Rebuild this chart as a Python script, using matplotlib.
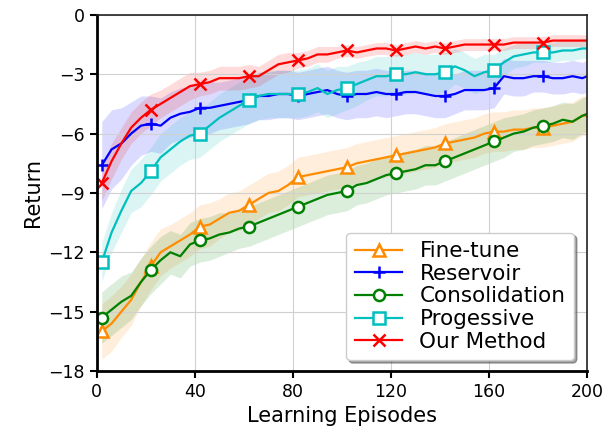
import matplotlib
matplotlib.use("Agg")
import matplotlib.pyplot as plt
import numpy as np

episodes = list(range(2, 199, 4)) + [200]

finetune = [-16.0, -15.6, -15.0, -14.4, -13.5, -12.7, -12.0, -11.7, -11.4, -11.1,
            -10.7, -10.6, -10.3, -10.0, -9.9, -9.6, -9.3, -9.0, -8.9, -8.6,
            -8.2, -8.1, -8.0, -7.9, -7.8, -7.7, -7.5, -7.4, -7.3, -7.2,
            -7.1, -7.0, -6.9, -6.8, -6.7, -6.5, -6.4, -6.3, -6.2, -6.0,
            -5.9, -5.9, -5.8, -5.8, -5.7, -5.7, -5.6, -5.5, -5.4, -5.1, -5.1]
finetune_sd = [1.4, 1.4, 1.3, 1.3, 1.2, 1.2, 1.2, 1.1, 1.1, 1.1,
               1.1, 1.1, 1.0, 1.0, 1.0, 1.0, 1.0, 1.0, 1.0, 1.0,
               1.0, 1.0, 1.0, 1.0, 1.0, 1.0, 1.0, 1.0, 1.0, 1.0,
               1.0, 1.0, 1.0, 1.0, 1.0, 1.0, 1.0, 1.0, 1.0, 1.0,
               1.0, 1.0, 1.0, 1.0, 1.0, 1.0, 1.0, 1.0, 1.0, 1.0, 1.0]

reservoir = [-7.6, -6.8, -6.5, -6.0, -5.6, -5.5, -5.6, -5.2, -5.0, -4.9,
             -4.7, -4.7, -4.6, -4.5, -4.4, -4.3, -4.1, -4.1, -4.0, -4.0,
             -4.1, -4.0, -3.9, -3.8, -4.0, -4.1, -4.0, -4.0, -3.9, -4.0,
             -4.0, -3.9, -3.9, -4.0, -4.1, -4.1, -4.0, -3.8, -3.8, -3.8,
             -3.7, -3.1, -3.2, -3.2, -3.1, -3.1, -3.2, -3.2, -3.1, -3.2, -3.1]
reservoir_sd = [2.2, 2.0, 1.8, 1.6, 1.5, 1.4, 1.4, 1.3, 1.3, 1.3,
                1.3, 1.3, 1.2, 1.2, 1.2, 1.2, 1.2, 1.2, 1.2, 1.2,
                1.2, 1.2, 1.2, 1.2, 1.2, 1.2, 1.2, 1.2, 1.2, 1.2,
                1.1, 1.1, 1.1, 1.1, 1.1, 1.1, 1.0, 1.0, 1.0, 1.0,
                1.0, 0.9, 0.9, 0.9, 0.8, 0.8, 0.8, 0.8, 0.8, 0.8, 0.8]

consolidation = [-15.3, -14.9, -14.5, -14.2, -13.5, -12.9, -12.4, -12.0, -12.2, -11.6,
                 -11.4, -11.3, -11.1, -11.0, -10.8, -10.7, -10.5, -10.3, -10.1, -9.9,
                 -9.7, -9.5, -9.3, -9.1, -9.0, -8.9, -8.6, -8.5, -8.3, -8.1,
                 -8.0, -7.9, -7.8, -7.6, -7.6, -7.4, -7.2, -7.0, -6.8, -6.6,
                 -6.4, -6.2, -6.0, -5.9, -5.7, -5.6, -5.5, -5.3, -5.4, -5.1, -5.0]
consolidation_sd = [1.3, 1.3, 1.3, 1.2, 1.2, 1.2, 1.2, 1.1, 1.1, 1.1,
                    1.1, 1.1, 1.1, 1.0, 1.0, 1.0, 1.0, 1.0, 1.0, 1.0,
                    1.0, 1.0, 1.0, 1.0, 1.0, 1.0, 1.0, 1.0, 1.0, 1.0,
                    1.0, 1.0, 1.0, 1.0, 1.0, 1.0, 1.0, 1.0, 1.0, 1.0,
                    1.0, 1.0, 0.9, 0.9, 0.9, 0.9, 0.9, 0.9, 0.9, 0.9, 0.9]

progressive = [-12.5, -11.0, -9.9, -8.9, -8.5, -7.9, -7.2, -6.8, -6.4, -6.1,
               -6.0, -5.6, -5.2, -4.9, -4.6, -4.3, -4.1, -4.0, -4.0, -4.0,
               -4.0, -3.9, -3.7, -4.0, -3.8, -3.7, -3.5, -3.3, -3.1, -3.1,
               -3.0, -3.0, -2.9, -3.0, -3.0, -2.9, -2.6, -2.8, -3.1, -2.9,
               -2.8, -2.4, -2.1, -2.0, -1.9, -1.9, -1.9, -1.8, -1.8, -1.7, -1.7]
progressive_sd = [1.0, 1.0, 1.1, 1.1, 1.2, 1.2, 1.2, 1.2, 1.2, 1.2,
                  1.2, 1.2, 1.2, 1.2, 1.2, 1.2, 1.2, 1.2, 1.2, 1.2,
                  1.2, 1.2, 1.2, 1.2, 1.2, 1.1, 1.1, 1.0, 1.0, 1.0,
                  1.0, 1.0, 1.0, 1.0, 1.0, 1.0, 0.9, 0.9, 0.9, 0.9,
                  0.8, 0.7, 0.6, 0.6, 0.5, 0.5, 0.5, 0.5, 0.5, 0.5, 0.5]

ours = [-8.5, -7.4, -6.5, -5.7, -5.2, -4.8, -4.5, -4.2, -3.9, -3.6,
        -3.5, -3.4, -3.2, -3.2, -3.2, -3.1, -3.1, -2.8, -2.5, -2.4,
        -2.3, -2.2, -2.0, -2.0, -1.9, -1.8, -1.9, -1.8, -1.7, -1.7,
        -1.8, -1.7, -1.6, -1.7, -1.6, -1.7, -1.6, -1.5, -1.5, -1.5,
        -1.5, -1.5, -1.4, -1.4, -1.4, -1.4, -1.3, -1.3, -1.3, -1.3, -1.3]
ours_sd = [0.9, 0.9, 0.8, 0.8, 0.8, 0.8, 0.7, 0.7, 0.7, 0.7,
           0.6, 0.6, 0.6, 0.6, 0.6, 0.6, 0.5, 0.5, 0.5, 0.5,
           0.4, 0.4, 0.4, 0.4, 0.3, 0.3, 0.3, 0.3, 0.3, 0.3,
           0.3, 0.3, 0.3, 0.3, 0.3, 0.3, 0.3, 0.3, 0.3, 0.3,
           0.3, 0.3, 0.3, 0.3, 0.3, 0.3, 0.3, 0.3, 0.3, 0.3, 0.3]

series = [
    ("Fine-tune", finetune, finetune_sd, "#ff8c00", "^"),
    ("Reservoir", reservoir, reservoir_sd, "#0000ff", "+"),
    ("Consolidation", consolidation, consolidation_sd, "#008000", "o"),
    ("Progessive", progressive, progressive_sd, "#00bfbf", "s"),
    ("Our Method", ours, ours_sd, "#ff0000", "x"),
]

fig = plt.figure(figsize=(6.13, 4.37), dpi=100)
ax = fig.add_axes([0.158, 0.151, 0.8, 0.815])

x = np.array(episodes)
for name, mean, sd, col, mk in series:
    m = np.array(mean)
    s = np.array(sd)
    ax.fill_between(x, m - s, m + s, color=col, alpha=0.14, lw=0)
    face = col if mk in ("+", "x") else "white"
    ax.plot(x, m, color=col, lw=1.6, marker=mk, markevery=list(range(0, 50, 5)),
            markersize=8, markerfacecolor=face, markeredgecolor=col,
            markeredgewidth=1.8, label=name)

ax.set_xlim(0, 200)
ax.set_ylim(-18, 0)
ax.set_xticks([0, 40, 80, 120, 160, 200])
ax.set_yticks([0, -3, -6, -9, -12, -15, -18])
ax.grid(True, color="#d0d0d0", lw=0.8)
ax.tick_params(labelsize=12.5, width=1.5, length=5)
ax.set_xlabel("Learning Episodes", fontsize=15)
ax.set_ylabel("Return", fontsize=15)
for side in ("left", "bottom"):
    ax.spines[side].set_linewidth(2)
for side in ("top", "right"):
    ax.spines[side].set_linewidth(1.2)
    ax.spines[side].set_color("#222222")

ax.legend(loc="lower right", fontsize=15.5, shadow=True, fancybox=True,
          handlelength=2.2, borderpad=0.4, labelspacing=0.12,
          framealpha=1, bbox_to_anchor=(0.995, 0.0))

fig.savefig("out.png", dpi=100)
